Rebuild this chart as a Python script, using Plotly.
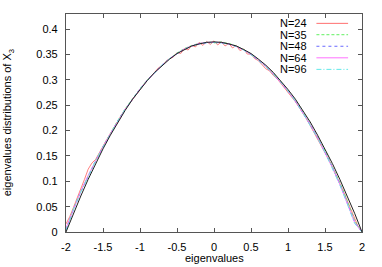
import plotly.graph_objects as go

# ---- data ----
x_grid = [-2.0, -1.9, -1.8, -1.7, -1.6, -1.5, -1.4, -1.3, -1.2, -1.1, -1.0,
          -0.9, -0.8, -0.7, -0.6, -0.5, -0.4, -0.3, -0.2, -0.1, 0.0,
          0.1, 0.2, 0.3, 0.4, 0.5, 0.6, 0.7, 0.8, 0.9, 1.0,
          1.1, 1.2, 1.3, 1.4, 1.5, 1.6, 1.7, 1.8, 1.9, 2.0]

theory = [0.000, 0.037, 0.071, 0.104, 0.135, 0.164, 0.191, 0.217, 0.240, 0.262, 0.281,
          0.299, 0.315, 0.329, 0.341, 0.352, 0.360, 0.367, 0.371, 0.374, 0.375,
          0.374, 0.371, 0.367, 0.360, 0.352, 0.341, 0.329, 0.315, 0.299, 0.281,
          0.262, 0.240, 0.217, 0.191, 0.164, 0.135, 0.104, 0.071, 0.037, 0.000]

x_n24 = [-2.00, -1.95, -1.90, -1.85, -1.80, -1.75, -1.70, -1.65, -1.60, -1.55,
         -1.50, -1.45, -1.40, -1.35, -1.30, -1.25, -1.20, -1.15, -1.10, -1.05,
         -1.00, -0.95, -0.90, -0.85, -0.80, -0.75, -0.70, -0.65, -0.60, -0.55,
         -0.50, -0.45, -0.40, -0.35, -0.30, -0.25, -0.20, -0.15, -0.10, -0.05,
         0.00, 0.05, 0.10, 0.15, 0.20, 0.25, 0.30, 0.35, 0.40, 0.45,
         0.50, 0.55, 0.60, 0.65, 0.70, 0.75, 0.80, 0.85, 0.90, 0.95,
         1.00, 1.05, 1.10, 1.15, 1.20, 1.25, 1.30, 1.35, 1.40, 1.45,
         1.50, 1.55, 1.60, 1.65, 1.70, 1.75, 1.80, 1.85, 1.90, 1.95, 2.00]
n24 = [0.016, 0.030, 0.048, 0.066, 0.084, 0.104, 0.124, 0.136, 0.143, 0.155,
       0.169, 0.182, 0.195, 0.206, 0.219, 0.231, 0.242, 0.252, 0.262, 0.272,
       0.282, 0.291, 0.300, 0.307, 0.316, 0.324, 0.328, 0.337, 0.342, 0.345,
       0.354, 0.352, 0.362, 0.359, 0.368, 0.365, 0.374, 0.368, 0.376, 0.370,
       0.377, 0.369, 0.375, 0.367, 0.372, 0.363, 0.368, 0.358, 0.361, 0.351,
       0.351, 0.342, 0.338, 0.330, 0.322, 0.318, 0.309, 0.303, 0.294, 0.285,
       0.276, 0.266, 0.257, 0.246, 0.235, 0.223, 0.210, 0.197, 0.184, 0.170,
       0.157, 0.143, 0.128, 0.113, 0.097, 0.080, 0.062, 0.044, 0.026, 0.010, 0.000]

n35 = [0.006, 0.046, 0.080, 0.112, 0.141, 0.169, 0.195, 0.220, 0.243, 0.263, 0.283,
       0.300, 0.316, 0.330, 0.342, 0.353, 0.362, 0.368, 0.372, 0.374, 0.373,
       0.375, 0.372, 0.367, 0.360, 0.351, 0.340, 0.327, 0.313, 0.297, 0.279,
       0.259, 0.237, 0.213, 0.187, 0.160, 0.130, 0.098, 0.062, 0.022, 0.000]

n48 = [0.004, 0.044, 0.079, 0.111, 0.140, 0.168, 0.194, 0.219, 0.242, 0.263, 0.282,
       0.300, 0.316, 0.330, 0.342, 0.352, 0.361, 0.367, 0.371, 0.373, 0.374,
       0.373, 0.371, 0.366, 0.359, 0.350, 0.339, 0.327, 0.312, 0.296, 0.278,
       0.258, 0.236, 0.212, 0.186, 0.158, 0.128, 0.095, 0.059, 0.020, 0.000]

n64 = [0.008, 0.045, 0.080, 0.112, 0.141, 0.168, 0.194, 0.219, 0.242, 0.262, 0.282,
       0.299, 0.315, 0.329, 0.342, 0.352, 0.361, 0.367, 0.372, 0.374, 0.374,
       0.374, 0.371, 0.366, 0.359, 0.351, 0.340, 0.327, 0.312, 0.296, 0.278,
       0.258, 0.236, 0.212, 0.186, 0.158, 0.127, 0.094, 0.058, 0.019, 0.000]

n96 = [0.003, 0.044, 0.079, 0.111, 0.140, 0.167, 0.194, 0.219, 0.242, 0.262, 0.282,
       0.299, 0.315, 0.329, 0.342, 0.352, 0.360, 0.367, 0.371, 0.374, 0.374,
       0.373, 0.371, 0.366, 0.359, 0.350, 0.339, 0.326, 0.312, 0.296, 0.278,
       0.258, 0.235, 0.211, 0.185, 0.157, 0.126, 0.093, 0.056, 0.017, 0.000]

series_names = ["N=24", "N=35", "N=48", "N=64", "N=96"]
series_x = [x_n24, x_grid, x_grid, x_grid, x_grid]
series_y = [n24, n35, n48, n64, n96]
series_colors = ["#ff7070", "#60f060", "#6868ff", "#ff70ff", "#60e8e8"]
series_dash = ["solid", "3px,2px", "dot", "solid", "5px,2px,1px,2px"]

x_ticks = [-2, -1.5, -1, -0.5, 0, 0.5, 1, 1.5, 2]
x_ticklabels = ["-2", "-1.5", "-1", "-0.5", "0", "0.5", "1", "1.5", "2"]
y_ticks = [0, 0.05, 0.1, 0.15, 0.2, 0.25, 0.3, 0.35, 0.4]
y_ticklabels = ["0", "0.05", "0.1", "0.15", "0.2", "0.25", "0.3", "0.35", "0.4"]

x_title = "eigenvalues"
y_title = "eigenvalues distributions of X<sub>3</sub>"

# ---- figure ----
FONT = "Liberation Sans, Arial, sans-serif"
fig = go.Figure()

for name, xs, ys, col, dash in zip(series_names, series_x, series_y, series_colors, series_dash):
    fig.add_trace(go.Scatter(x=xs, y=ys, mode="lines", name=name, showlegend=False,
                             line=dict(color=col, width=0.9, dash=dash)))

fig.add_trace(go.Scatter(x=x_grid, y=theory, mode="lines", name="theory", showlegend=False,
                         line=dict(color="#202020", width=1)))

# gnuplot-style key: text right-aligned, line sample to the right
row_y = [0.957, 0.905, 0.852, 0.799, 0.746]
for name, col, dash, yy in zip(series_names, series_colors, series_dash, row_y):
    fig.add_annotation(xref="paper", yref="paper", x=0.822, y=yy, text=name,
                       showarrow=False, xanchor="right", yanchor="middle",
                       font=dict(family=FONT, size=11, color="black"))
    fig.add_shape(type="line", xref="paper", yref="paper", x0=0.846, x1=0.953,
                  y0=yy, y1=yy, line=dict(color=col, width=1, dash=dash))

# axis titles placed as annotations (gnuplot-like positions)
fig.add_annotation(xref="paper", yref="paper", x=0.5, y=-0.119, text=x_title,
                   showarrow=False, xanchor="center", yanchor="middle",
                   font=dict(family=FONT, size=11, color="black"))
fig.add_annotation(xref="paper", yref="paper", x=-0.195, y=0.5, text=y_title,
                   showarrow=False, xanchor="center", yanchor="middle", textangle=-90,
                   font=dict(family=FONT, size=11, color="black"))

axis_common = dict(showline=True, linecolor="#555555", linewidth=1.2, mirror="ticks",
                   ticks="inside", ticklen=4, tickcolor="#555555", showgrid=False,
                   zeroline=False, automargin=False, ticklabelstandoff=5,
                   tickfont=dict(family=FONT, size=11, color="black"))

fig.update_layout(
    width=382, height=267,
    margin=dict(l=66, r=20, t=14, b=35),
    paper_bgcolor="white", plot_bgcolor="white",
    font=dict(family=FONT, size=11, color="black"),
    xaxis=dict(range=[-2, 2], tickvals=x_ticks, ticktext=x_ticklabels, **axis_common),
    yaxis=dict(range=[0, 0.43], tickvals=y_ticks, ticktext=y_ticklabels, **axis_common),
)

fig.write_html("out.html", config={"displayModeBar": False},
               post_script="document.body.style.margin='0';document.body.style.overflow='hidden';")
